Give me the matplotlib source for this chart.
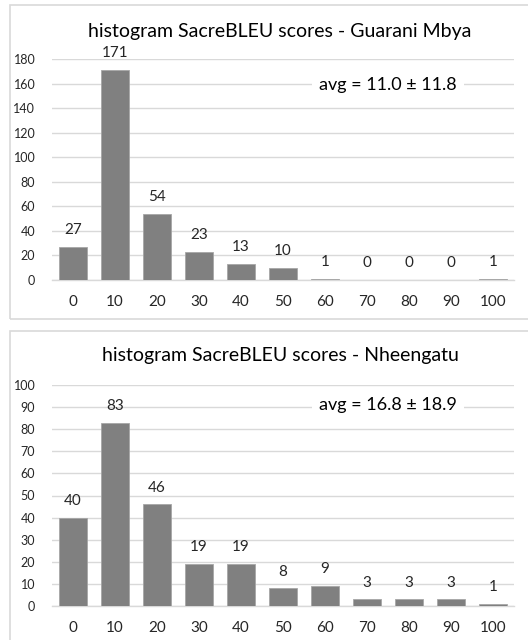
import numpy as np
import matplotlib.pyplot as plt
from matplotlib.patches import Rectangle

plt.rcParams['font.family'] = ['Lato', 'DejaVu Sans']

bins = ['0', '10', '20', '30', '40', '50', '60', '70', '80', '90', '100']
guarani = [27, 171, 54, 23, 13, 10, 1, 0, 0, 0, 1]
nheengatu = [40, 83, 46, 19, 19, 8, 9, 3, 3, 3, 1]
titles = ['histogram SacreBLEU scores - Guarani Mbya', 'histogram SacreBLEU scores - Nheengatu']
avgs = ['avg = 11.0 \u00b1 11.8', 'avg = 16.8 \u00b1 18.9']

fig = plt.figure(figsize=(5.28, 6.4), dpi=100)
W, H = 528, 640

def px(x0, y0, x1, y1):
    # pixel box (top-left origin) -> figure fraction rect
    return [x0 / W, 1 - y1 / H, (x1 - x0) / W, (y1 - y0) / H]

# panel frames
for (x0, y0, x1, y1) in [(10, 5, 540, 319), (10, 331, 540, 660)]:
    fig.patches.append(Rectangle((x0 / W, 1 - y1 / H), (x1 - x0) / W, (y1 - y0) / H,
                                 transform=fig.transFigure, fill=False,
                                 edgecolor='#d9d9d9', linewidth=1.2))

panels = [
    (guarani, px(52, 59, 514, 280), 180, 20, titles[0], avgs[0], 159, 31),
    (nheengatu, px(52, 385, 514, 606), 100, 10, titles[1], avgs[1], 91, 356),
]

grid_c = '#d9d9d9'
x = np.arange(len(bins))
for vals, rect, ymax, step, title, avg, avg_y, title_y in panels:
    ax = fig.add_axes(rect)
    ax.bar(x, vals, width=0.69, color='#808080', edgecolor='#a6a6a6', linewidth=0.6, zorder=3)
    for xi, v in zip(x, vals):
        ax.annotate(str(v), (xi, v), xytext=(0, 7), textcoords='offset points',
                    ha='center', va='bottom', fontsize=11, color='#262626', zorder=4)
    ax.set_xlim(-0.5, len(bins) - 0.5)
    ax.set_ylim(0, ymax)
    ax.set_yticks(np.arange(0, ymax + 1, step))
    ax.set_xticks(x)
    ax.set_xticklabels(bins)
    ax.yaxis.grid(True, color=grid_c, linewidth=1.0, zorder=0)
    ax.set_axisbelow(True)
    for s in ['top', 'right', 'left']:
        ax.spines[s].set_visible(False)
    ax.spines['bottom'].set_color(grid_c)
    ax.spines['bottom'].set_linewidth(1.0)
    ax.tick_params(axis='both', length=0, colors='#262626')
    ax.tick_params(axis='y', labelsize=9, pad=12)
    ax.tick_params(axis='x', labelsize=11, pad=11)
    ax.text(7.5, avg_y, avg, ha='center', va='center', fontsize=13, color='#000000',
            bbox=dict(facecolor='white', edgecolor='none', pad=5), zorder=5)
    fig.text(0.5 + 16 / W, 1 - title_y / H, title, ha='center', va='center',
             fontsize=14, color='#000000')

fig.savefig('out.png', dpi=100)
